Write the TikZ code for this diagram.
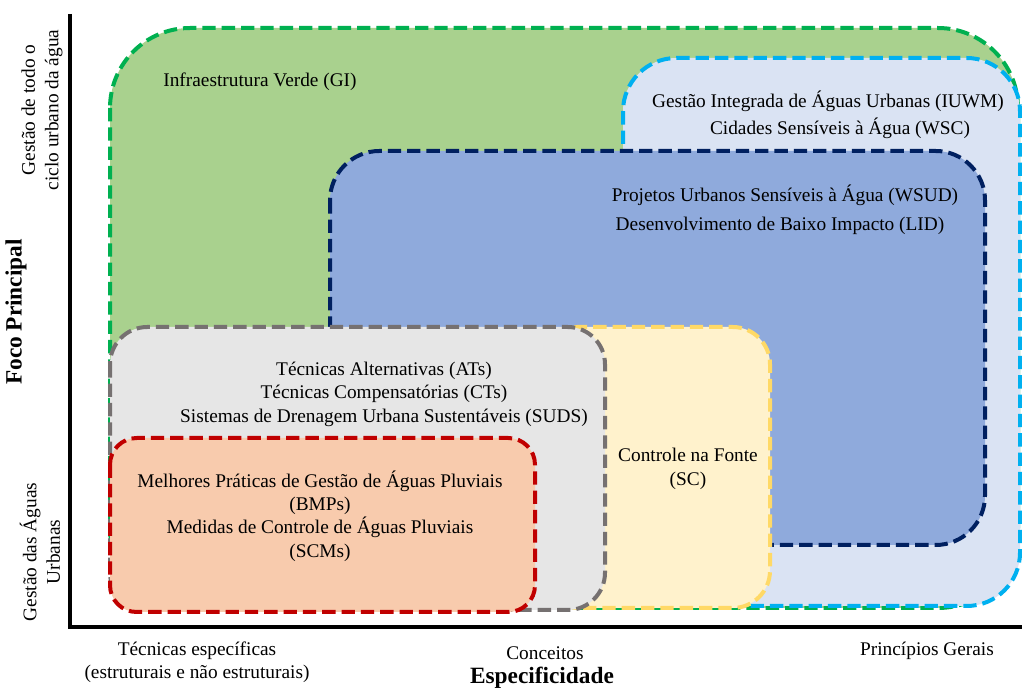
\documentclass[tikz,border=0pt]{standalone}
\usepackage{fontspec}
\setmainfont{Liberation Serif}
\usepackage{tikz}
\usetikzlibrary{positioning}

\definecolor{gifill}{HTML}{A9D18E}
\definecolor{giline}{HTML}{00B050}
\definecolor{iuwmfill}{HTML}{DAE3F3}
\definecolor{iuwmline}{HTML}{00B0F0}
\definecolor{wsudfill}{HTML}{8FAADC}
\definecolor{wsudline}{HTML}{002060}
\definecolor{scfill}{HTML}{FFF2CC}
\definecolor{scline}{HTML}{FFD966}
\definecolor{atfill}{HTML}{E6E6E6}
\definecolor{atline}{HTML}{767171}
\definecolor{bmpfill}{HTML}{F8CBAD}
\definecolor{bmpline}{HTML}{C00000}

\tikzset{
    areabox/.style={line width=3pt, dash pattern=on 10pt off 4.5pt},
    lbl/.style={font=\fontsize{14.5}{17.6}\selectfont, align=center, inner sep=0pt},
    axlbl/.style={font=\fontsize{17.5}{20}\selectfont\bfseries, inner sep=0pt},
    axis/.style={line width=3pt}
}

\begin{document}
\begin{tikzpicture}[x=0.75pt, y=-0.75pt]
    \useasboundingbox (0,0) rectangle (1022,691);

    % areas, from back to front
    \draw[areabox, draw=giline, fill=gifill, rounded corners=60pt] (110,28) rectangle (1018,608);
    \draw[areabox, draw=iuwmline, fill=iuwmfill, rounded corners=40pt] (623,58) rectangle (1020,606);
    \draw[areabox, draw=wsudline, fill=wsudfill, rounded corners=37pt] (330,151) rectangle (985,545);
    \draw[areabox, draw=scline, fill=scfill, rounded corners=28pt] (540,327) rectangle (770,608);
    \draw[areabox, draw=atline, fill=atfill, rounded corners=28pt] (110,327) rectangle (605,610);
    \draw[areabox, draw=bmpline, fill=bmpfill, rounded corners=20pt] (110,438) rectangle (535,612);

    % texts
    \node[lbl] (gi) at (260,82) {Infraestrutura Verde (GI)};
    \node[lbl] (iuwm) at (828,101) {Gestão Integrada de Águas Urbanas (IUWM)};
    \node[lbl] (wsc) at (840,128) {Cidades Sensíveis à Água (WSC)};
    \node[lbl] (wsud) at (785,195) {Projetos Urbanos Sensíveis à Água (WSUD)};
    \node[lbl] (lid) at (780,226) {Desenvolvimento de Baixo Impacto (LID)};
    \node[lbl] (ats) at (384,394) {Técnicas Alternativas (ATs)\\Técnicas Compensatórias (CTs)\\Sistemas de Drenagem Urbana Sustentáveis (SUDS)};
    \node[lbl] (sc) at (688,469) {Controle na Fonte\\(SC)};
    \node[lbl] (bmp) at (320,516) {Melhores Práticas de Gestão de Águas Pluviais\\(BMPs)\\Medidas de Controle de Águas Pluviais\\(SCMs)};

    % axes
    \coordinate (o) at (70,627);
    \coordinate (ytop) at (70,14);
    \coordinate (xend) at (1022,627);
    \draw[axis] (ytop) -- (o) -- (xend);

    \node[lbl, rotate=90] (ytop lbl) at (42,110) {Gestão de todo o\\ciclo urbano da água};
    \node[axlbl, rotate=90] (foco) at (16,312) {Foco Principal};
    \node[lbl, rotate=90] (ybot lbl) at (40,552) {Gestão das Águas\\Urbanas};

    \node[lbl] (xleft) at (197,662) {Técnicas específicas\\(estruturais e não estruturais)};
    \node[lbl] (xmid) at (545,653) {Conceitos};
    \node[lbl] (xright) at (927,651) {Princípios Gerais};
    \node[axlbl] (espec) at (542,678) {Especificidade};
\end{tikzpicture}
\end{document}
